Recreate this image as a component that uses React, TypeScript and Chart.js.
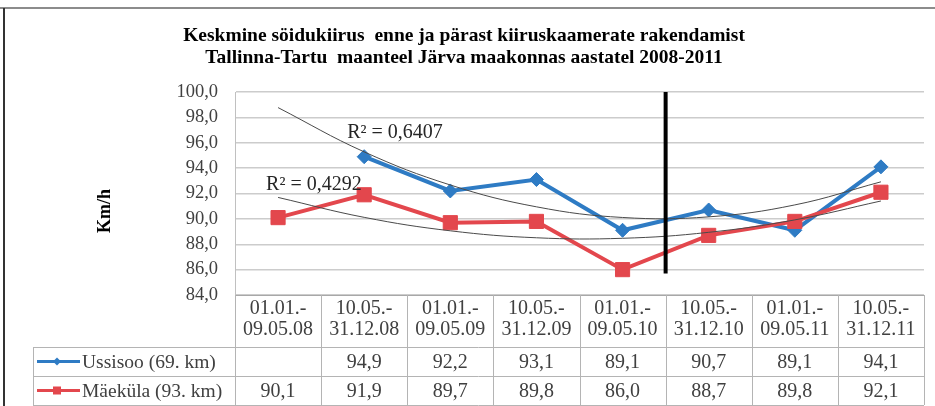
import React, { useEffect, useRef } from 'react';
import { Chart, registerables } from 'chart.js';

Chart.register(...registerables);

const titleLines = [
  'Keskmine söidukiirus  enne ja pärast kiiruskaamerate rakendamist',
  'Tallinna-Tartu  maanteel Järva maakonnas aastatel 2008-2011',
];
const categories = [
  ['01.01.-', '09.05.08'],
  ['10.05.-', '31.12.08'],
  ['01.01.-', '09.05.09'],
  ['10.05.-', '31.12.09'],
  ['01.01.-', '09.05.10'],
  ['10.05.-', '31.12.10'],
  ['01.01.-', '09.05.11'],
  ['10.05.-', '31.12.11'],
];
const seriesNames = ['Ussisoo (69. km)', 'Mäeküla (93. km)'];
const ussisoo: (number | null)[] = [null, 94.9, 92.2, 93.1, 89.1, 90.7, 89.1, 94.1];
const maekula: number[] = [90.1, 91.9, 89.7, 89.8, 86.0, 88.7, 89.8, 92.1];
// polynomial trendlines (at each category)
const ussisooTrend: number[] = [98.77, 95.28, 92.67, 90.95, 90.11, 90.16, 91.1, 92.92];
const maekulaTrend: number[] = [91.69, 90.12, 89.06, 88.51, 88.47, 88.94, 89.92, 91.41];
const r2Labels = ['R² = 0,6407', 'R² = 0,4292'];
const yTitle = 'Km/h';
const yMin = 84;
const yMax = 100;
const yStep = 2;
// black separator between these two categories, from/to these values
const separatorAfterIndex = 4;
const separatorFrom = 100;
const separatorTo = 85.7;

const BLUE = '#2e7bc4';
const RED = '#e3474d';
const SERIF = 'Liberation Serif';
const fmt = (v: number) => v.toFixed(1).replace('.', ',');

Chart.defaults.font.family = SERIF;

const decoPlugin = {
  id: 'deco',
  beforeDraw(chart: any) {
    const ctx = chart.ctx;
    ctx.save();
    ctx.fillStyle = '#ffffff';
    ctx.fillRect(0, 0, chart.width, chart.height);
    ctx.lineWidth = 2;
    ctx.strokeStyle = '#8c8c8c';
    ctx.beginPath();
    ctx.moveTo(0, 8);
    ctx.lineTo(chart.width, 8);
    ctx.stroke();
    ctx.strokeStyle = '#333333';
    ctx.beginPath();
    ctx.moveTo(4, 8);
    ctx.lineTo(4, chart.height);
    ctx.stroke();
    ctx.restore();
  },
  afterDatasetsDraw(chart: any) {
    const ctx = chart.ctx;
    const x = chart.scales.x;
    const y = chart.scales.y;
    ctx.save();
    const sx = (x.getPixelForValue(separatorAfterIndex) + x.getPixelForValue(separatorAfterIndex + 1)) / 2;
    ctx.strokeStyle = '#000000';
    ctx.lineWidth = 4;
    ctx.beginPath();
    ctx.moveTo(sx, y.getPixelForValue(separatorFrom));
    ctx.lineTo(sx, y.getPixelForValue(separatorTo));
    ctx.stroke();
    ctx.font = `20px "${SERIF}"`;
    ctx.fillStyle = '#262626';
    ctx.textBaseline = 'middle';
    ctx.textAlign = 'left';
    ctx.fillText(r2Labels[0], x.getPixelForValue(1) - 17, y.getPixelForValue(96.8));
    ctx.fillText(r2Labels[1], x.getPixelForValue(0) - 12, y.getPixelForValue(92.7));
    ctx.restore();
  },
  afterDraw(chart: any) {
    const ctx = chart.ctx;
    const x = chart.scales.x;
    const area = chart.chartArea;
    const n = categories.length;
    const colW = (x.getPixelForValue(n - 1) - x.getPixelForValue(0)) / (n - 1);
    const top = area.bottom;
    const rowTops = [347, 376];
    const bottom = 405;
    const labelLeft = 33;
    ctx.save();
    ctx.strokeStyle = '#b4b4b4';
    ctx.lineWidth = 1;
    ctx.beginPath();
    for (let i = 0; i <= n; i++) {
      const bx = Math.round(x.getPixelForValue(0) - colW / 2 + i * colW) + 0.5;
      ctx.moveTo(bx, top);
      ctx.lineTo(bx, bottom);
    }
    for (const ry of [...rowTops, bottom]) {
      ctx.moveTo(labelLeft, ry + 0.5);
      ctx.lineTo(area.right, ry + 0.5);
    }
    ctx.moveTo(labelLeft + 0.5, rowTops[0]);
    ctx.lineTo(labelLeft + 0.5, bottom);
    ctx.stroke();

    const rows = [ussisoo, maekula];
    const colors = [BLUE, RED];
    ctx.textBaseline = 'middle';
    rows.forEach((vals, r) => {
      const cy = r === 0 ? (rowTops[0] + rowTops[1]) / 2 : (rowTops[1] + bottom) / 2;
      ctx.font = `20px "${SERIF}"`;
      ctx.fillStyle = '#404040';
      ctx.textAlign = 'center';
      vals.forEach((v, i) => {
        if (v === null || v === undefined) return;
        ctx.fillText(fmt(v), x.getPixelForValue(i), cy + 1);
      });
      ctx.strokeStyle = colors[r];
      ctx.lineWidth = 3;
      ctx.beginPath();
      ctx.moveTo(labelLeft + 4, cy);
      ctx.lineTo(80, cy);
      ctx.stroke();
      ctx.fillStyle = colors[r];
      const mx = 57;
      if (r === 0) {
        ctx.beginPath();
        ctx.moveTo(mx - 4, cy);
        ctx.lineTo(mx, cy - 4);
        ctx.lineTo(mx + 4, cy);
        ctx.lineTo(mx, cy + 4);
        ctx.closePath();
        ctx.fill();
      } else {
        ctx.fillRect(mx - 4, cy - 4, 8, 8);
      }
      ctx.font = `19.5px "${SERIF}"`;
      ctx.fillStyle = '#404040';
      ctx.textAlign = 'left';
      ctx.fillText(seriesNames[r], 82, cy + 1);
    });

    ctx.save();
    ctx.translate(105, 211);
    ctx.rotate(-Math.PI / 2);
    ctx.font = `bold 18px "${SERIF}"`;
    ctx.fillStyle = '#000000';
    ctx.textAlign = 'center';
    ctx.textBaseline = 'middle';
    ctx.fillText(yTitle, 0, 0);
    ctx.restore();
    ctx.restore();
  },
};

export default function App() {
  const ref = useRef<HTMLCanvasElement>(null);
  useEffect(() => {
    const chart = new Chart(ref.current as HTMLCanvasElement, {
      type: 'line',
      data: {
        labels: categories as any,
        datasets: [
          {
            label: 'Ussisoo trend',
            data: ussisooTrend,
            borderColor: '#4a4a4a',
            borderWidth: 1,
            pointRadius: 0,
            tension: 0.4,
            order: 0,
          },
          {
            label: 'Mäeküla trend',
            data: maekulaTrend,
            borderColor: '#4a4a4a',
            borderWidth: 1,
            pointRadius: 0,
            tension: 0.4,
            order: 0,
          },
          {
            label: seriesNames[0],
            data: ussisoo,
            borderColor: BLUE,
            backgroundColor: BLUE,
            borderWidth: 4,
            pointStyle: 'rectRot',
            pointRadius: 7,
            pointBorderWidth: 1,
            pointBorderColor: BLUE,
            pointBackgroundColor: BLUE,
            tension: 0,
            order: 2,
          },
          {
            label: seriesNames[1],
            data: maekula,
            borderColor: RED,
            backgroundColor: RED,
            borderWidth: 4,
            pointStyle: 'rect',
            pointRadius: 10,
            pointBorderWidth: 1,
            pointBorderColor: RED,
            pointBackgroundColor: RED,
            tension: 0,
            order: 1,
          },
        ],
      },
      options: {
        responsive: false,
        animation: false,
        devicePixelRatio: 1,
        layout: { padding: { left: 0, right: 7, top: 0, bottom: 63 } },
        plugins: {
          legend: { display: false },
          tooltip: { enabled: false },
          title: {
            display: true,
            text: titleLines,
            color: '#000000',
            font: { family: SERIF, size: 19.5, weight: 'bold', lineHeight: 22 / 19.5 },
            padding: { top: 25, bottom: 23 },
          },
        },
        scales: {
          x: {
            type: 'category',
            offset: true,
            grid: { display: false, drawTicks: false },
            border: { display: true, color: '#a8a8a8', width: 1 },
            ticks: {
              autoSkip: false,
              maxRotation: 0,
              minRotation: 0,
              padding: 3,
              color: '#404040',
              font: { family: SERIF, size: 20, lineHeight: 21 / 20 },
            },
          },
          y: {
            min: yMin,
            max: yMax,
            afterFit: (scale: any) => {
              scale.width = 235;
            },
            grid: { color: '#cccccc', lineWidth: 1.5, drawTicks: false },
            border: { display: true, color: '#c0c0c0', width: 1 },
            ticks: {
              stepSize: yStep,
              padding: 17,
              color: '#404040',
              font: { family: SERIF, size: 18.5 },
              callback: (v: any) => fmt(Number(v)),
            },
          },
        },
      },
      plugins: [decoPlugin],
    } as any);
    return () => chart.destroy();
  }, []);
  return (
    <div style={{ position: 'absolute', left: 0, top: 0, width: 935, height: 406 }}>
      <canvas ref={ref} width={935} height={406} style={{ width: 935, height: 406, display: 'block' }} />
    </div>
  );
}
